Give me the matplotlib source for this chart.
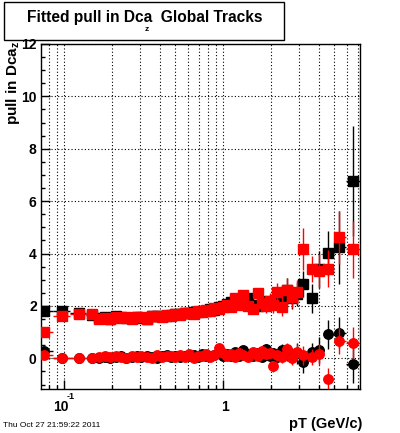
import numpy as np
import matplotlib
matplotlib.use('Agg')
import matplotlib.pyplot as plt
from matplotlib.ticker import FixedLocator, MultipleLocator, NullFormatter
from matplotlib.patches import Rectangle

plt.rcParams['font.family'] = ['Liberation Sans', 'DejaVu Sans']
plt.rcParams['font.weight'] = 'bold'
plt.rcParams['mathtext.fontset'] = 'custom'
plt.rcParams['mathtext.rm'] = 'Liberation Sans:bold'
plt.rcParams['mathtext.it'] = 'Liberation Sans:bold'
plt.rcParams['mathtext.bf'] = 'Liberation Sans:bold'

# pT bin positions (GeV/c)
pt = [0.075, 0.096, 0.124, 0.149, 0.165, 0.18, 0.195, 0.21, 0.227, 0.245,
      0.265, 0.285, 0.305, 0.33, 0.355, 0.38, 0.41, 0.44, 0.47, 0.50,
      0.535, 0.57, 0.61, 0.65, 0.69, 0.735, 0.78, 0.83, 0.88, 0.935,
      0.99, 1.05, 1.12, 1.19, 1.26, 1.336, 1.42, 1.544, 1.65, 1.745,
      1.85, 1.966, 2.06, 2.19, 2.33, 2.5, 2.69, 2.92, 3.19, 3.6,
      4.0, 4.57, 5.36, 6.56]

# fitted sigma of the pull (squares)
black_sigma = [1.81, 1.80, 1.72, 1.66, 1.55, 1.58, 1.50, 1.60, 1.57, 1.55,
               1.55, 1.58, 1.55, 1.52, 1.62, 1.60, 1.62, 1.63, 1.66, 1.68,
               1.70, 1.75, 1.72, 1.78, 1.76, 1.82, 1.80, 1.88, 1.85, 1.95,
               2.00, 2.08, 2.15, 2.20, 2.22, 2.10, 2.29, 2.05, 2.00, 2.18,
               2.05, 2.10, 2.20, 2.30, 2.25, 2.60, 2.30, 2.45, 2.83, 2.29,
               3.40, 4.01, 4.24, 6.78]
red_sigma = [1.00, 1.60, 1.71, 1.69, 1.52, 1.55, 1.52, 1.58, 1.55, 1.57,
             1.52, 1.56, 1.58, 1.50, 1.60, 1.62, 1.58, 1.65, 1.62, 1.70,
             1.66, 1.72, 1.75, 1.70, 1.80, 1.78, 1.85, 1.80, 1.92, 1.88,
             1.95, 2.02, 1.96, 2.30, 2.05, 2.40, 2.00, 1.90, 2.48, 2.10,
             2.00, 2.20, 2.03, 2.55, 1.97, 2.61, 2.35, 2.54, 4.16, 3.40,
             3.34, 3.43, 4.62, 4.16]
black_sigma_err = [0.05, 0.05, 0.04, 0.04, 0.03, 0.03, 0.03, 0.03, 0.03, 0.03,
                   0.03, 0.03, 0.03, 0.03, 0.03, 0.03, 0.04, 0.04, 0.04, 0.04,
                   0.05, 0.05, 0.05, 0.06, 0.06, 0.07, 0.07, 0.08, 0.08, 0.09,
                   0.10, 0.11, 0.12, 0.13, 0.15, 0.16, 0.18, 0.20, 0.22, 0.24,
                   0.26, 0.28, 0.30, 0.33, 0.36, 0.48, 0.42, 0.46, 0.50, 0.55,
                   0.70, 0.85, 1.40, 2.10]
red_sigma_err = [0.05, 0.05, 0.04, 0.04, 0.03, 0.03, 0.03, 0.03, 0.03, 0.03,
                 0.03, 0.03, 0.03, 0.03, 0.03, 0.03, 0.04, 0.04, 0.04, 0.04,
                 0.05, 0.05, 0.05, 0.06, 0.06, 0.07, 0.07, 0.08, 0.08, 0.09,
                 0.10, 0.11, 0.12, 0.13, 0.15, 0.16, 0.18, 0.20, 0.22, 0.24,
                 0.26, 0.28, 0.30, 0.33, 0.36, 0.45, 0.42, 0.46, 0.80, 0.50,
                 0.65, 0.70, 1.00, 1.10]

# fitted mean of the pull (circles)
black_mean = [0.28, 0.02, 0.00, 0.02, 0.00, 0.05, 0.02, 0.06, 0.08, 0.00,
              0.05, 0.08, 0.04, 0.10, 0.06, 0.02, 0.08, 0.12, 0.05, 0.10,
              0.06, 0.10, 0.08, 0.12, 0.05, 0.15, 0.10, 0.08, 0.14, 0.20,
              0.10, 0.15, 0.08, 0.25, 0.10, 0.31, 0.15, 0.10, 0.20, 0.05,
              0.37, 0.10, 0.20, 0.05, 0.31, 0.15, 0.10, 0.20, -0.14, 0.24,
              0.33, 0.92, 0.98, -0.20]
red_mean = [0.12, 0.00, 0.03, 0.03, 0.05, 0.08, 0.04, 0.10, 0.06, 0.02,
            0.08, 0.05, 0.10, 0.07, 0.03, 0.12, 0.05, 0.08, 0.10, 0.04,
            0.12, 0.06, 0.15, 0.02, 0.10, 0.08, 0.18, 0.05, 0.12, 0.38,
            0.20, 0.10, 0.15, 0.05, 0.20, 0.12, 0.05, 0.24, 0.10, 0.28,
            0.15, 0.22, -0.31, 0.11, 0.05, 0.34, 0.03, 0.24, 0.11, 0.05,
            0.15, -0.78, 0.66, 0.59]
black_mean_err = [0.04, 0.04, 0.03, 0.03, 0.02, 0.02, 0.02, 0.02, 0.02, 0.02,
                  0.02, 0.02, 0.02, 0.02, 0.02, 0.02, 0.03, 0.03, 0.03, 0.03,
                  0.03, 0.03, 0.04, 0.04, 0.04, 0.05, 0.05, 0.05, 0.06, 0.06,
                  0.07, 0.07, 0.08, 0.09, 0.10, 0.11, 0.12, 0.13, 0.14, 0.15,
                  0.16, 0.18, 0.20, 0.22, 0.24, 0.26, 0.30, 0.40, 0.40, 0.35,
                  0.50, 0.55, 0.60, 0.75]
red_mean_err = [0.04, 0.04, 0.03, 0.03, 0.02, 0.02, 0.02, 0.02, 0.02, 0.02,
                0.02, 0.02, 0.02, 0.02, 0.02, 0.02, 0.03, 0.03, 0.03, 0.03,
                0.03, 0.03, 0.04, 0.04, 0.04, 0.05, 0.05, 0.05, 0.06, 0.06,
                0.07, 0.07, 0.08, 0.09, 0.10, 0.11, 0.12, 0.13, 0.14, 0.15,
                0.16, 0.18, 0.20, 0.22, 0.24, 0.26, 0.30, 0.30, 0.35, 0.30,
                0.40, 0.40, 0.50, 0.60]

x = np.array(pt)
# bin edges halfway (in log) between neighbouring points
mid = np.sqrt(x[1:] * x[:-1])
edges = np.concatenate([[x[0] ** 2 / mid[0]], mid, [x[-1] ** 2 / mid[-1]]])
xerr = [x - edges[:-1], edges[1:] - x]

fig = plt.figure(figsize=(4.0, 4.33), dpi=100)
ax = fig.add_axes([0.102, 0.1016, 0.798, 0.7968])

ax.set_xscale('log')
ax.set_xlim(0.0711, 7.24)
ax.set_ylim(-1.17, 12)

# grid: every log tick vertically, major y ticks horizontally
major_x = [0.1, 1]
minor_x = [0.08, 0.09, 0.2, 0.3, 0.4, 0.5, 0.6, 0.7, 0.8, 0.9, 2, 3, 4, 5, 6, 7]
ax.xaxis.set_major_locator(FixedLocator(major_x))
ax.xaxis.set_minor_locator(FixedLocator(minor_x))
ax.xaxis.set_major_formatter(NullFormatter())
ax.xaxis.set_minor_formatter(NullFormatter())
ax.yaxis.set_major_locator(MultipleLocator(2))
ax.yaxis.set_minor_locator(MultipleLocator(0.5))
for v in major_x + minor_x:
    ax.axvline(v, color='black', lw=0.8, ls=(0, (1, 2)), zorder=0)
for v in range(0, 13, 2):
    ax.axhline(v, color='black', lw=0.8, ls=(0, (1, 2)), zorder=0)

ax.tick_params(which='both', direction='in', top=False, right=False,
               width=1.0, labelsize=10, pad=3)
ax.tick_params(which='major', length=6.5)
ax.tick_params(which='minor', length=3.2)
for lab in ax.get_yticklabels():
    lab.set_fontweight('bold')
for s in ax.spines.values():
    s.set_linewidth(1.0)

kw = dict(ls='none', elinewidth=1.0, capsize=0)
ax.errorbar(x, black_sigma, yerr=black_sigma_err, xerr=xerr, fmt='s',
            color='black', ms=7.2, zorder=3, **kw)
ax.errorbar(x, black_mean, yerr=black_mean_err, xerr=xerr, fmt='o',
            color='black', ms=6.8, zorder=3, **kw)
ax.errorbar(x, red_sigma, yerr=red_sigma_err, xerr=xerr, fmt='s',
            color='red', ms=7.2, zorder=4, **kw)
ax.errorbar(x, red_mean, yerr=red_mean_err, xerr=xerr, fmt='o',
            color='red', ms=6.8, zorder=4, **kw)

# x tick labels drawn ROOT-like (offsets in pixels from the tick foot)
tr = ax.get_xaxis_transform()
ax.annotate('10', xy=(0.1, 0), xycoords=tr, xytext=(-3.8, -22),
            textcoords='offset pixels', ha='center', va='baseline',
            fontsize=10, fontweight='bold')
ax.annotate('-1', xy=(0.1, 0), xycoords=tr, xytext=(2.4, -9.5),
            textcoords='offset pixels', ha='left', va='baseline',
            fontsize=6.5, fontweight='bold')
ax.annotate('1', xy=(1, 0), xycoords=tr, xytext=(1.4, -22),
            textcoords='offset pixels', ha='center', va='baseline',
            fontsize=10, fontweight='bold')

# title box
fig.patches.append(Rectangle((0.01, 0.9076), 0.70, 0.0878, transform=fig.transFigure,
                             fill=False, edgecolor='black', lw=1.0))
fig.text(0.3612, 0.9499, 'Fitted pull in Dca  Global Tracks', ha='center',
         va='baseline', fontsize=11.2, fontweight='bold')
fig.text(0.3675, 0.929, 'z', ha='center', va='baseline', fontsize=6, fontweight='bold')

# axis titles
fig.text(0.032, 0.906, r'pull in Dca$_{\mathbf{z}}$', rotation=90, ha='center',
         va='top', fontsize=11, fontweight='bold')
fig.text(0.905, 0.0122, 'pT (GeV/c)', ha='right', va='baseline',
         fontsize=10.5, fontweight='bold')
fig.text(0.0075, 0.0139, 'Thu Oct 27 21:59:22 2011', ha='left', va='baseline',
         fontsize=6, fontweight='normal')

fig.savefig('out.png', dpi=100)
